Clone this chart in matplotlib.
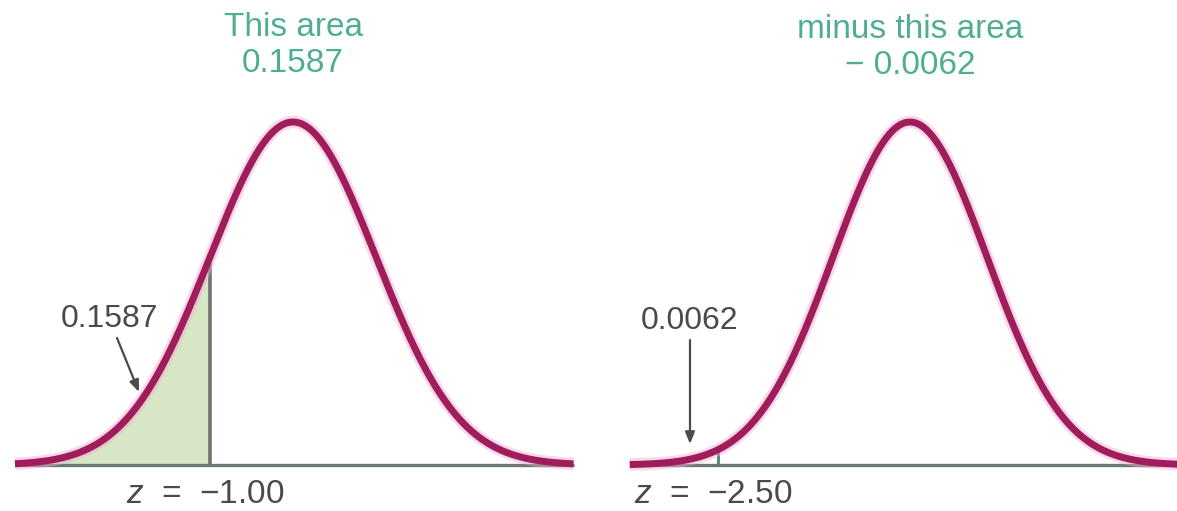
import numpy as np
import matplotlib
matplotlib.use("Agg")
import matplotlib.pyplot as plt

plt.rcParams['font.family'] = ['Liberation Sans', 'DejaVu Sans']
plt.rcParams['mathtext.fontset'] = 'custom'
plt.rcParams['mathtext.rm'] = 'Liberation Sans'
plt.rcParams['mathtext.it'] = 'Liberation Sans:italic'

# Values shown on the two panels
z_left = -1.00
area_left = 0.1587
z_right = -2.50
area_right = 0.0062
title_left = ["This area", "0.1587"]
title_right = ["minus this area", "\u2212 0.0062"]
z_labels = [r"$z$  =  " + "\u22121.00", r"$z$  =  " + "\u22122.50"]

W, H = 1177, 511
fig = plt.figure(figsize=(W / 100, H / 100), dpi=100)

CURVE = "#9e1d5a"
HALO = "#f4a9d4"
AXIS = "#6d7772"
FILL = "#d7e6c4"
TEAL = "#4fae92"
LABEL = "#4a4a4a"

def pdf(z):
    return np.exp(-0.5 * z ** 2) / np.sqrt(2 * np.pi)

# vertical layout in pixels (measured from the bottom)
base_px = 46
peak_px = 389
yscale = (peak_px - base_px) / pdf(0)
ylim = (-base_px / yscale, (H - base_px) / yscale)

def py(px_from_top):
    """data y for a given pixel row counted from the top"""
    return (H - px_from_top - base_px) / yscale

def make_ax(x0, x1, mean_px, sigma_px):
    ax = fig.add_axes([x0 / W, 0, (x1 - x0) / W, 1])
    ax.set_xlim((x0 - mean_px) / sigma_px, (x1 - mean_px) / sigma_px)
    ax.set_ylim(*ylim)
    ax.axis("off")
    return ax

def draw_curve(ax, lo, hi):
    z = np.linspace(lo, hi, 600)
    ax.plot([lo, hi], [0, 0], color=AXIS, lw=2.4, solid_capstyle="butt", zorder=2)
    ax.plot(z, pdf(z), color=HALO, lw=9, alpha=0.45, solid_capstyle="butt", zorder=3)
    ax.plot(z, pdf(z), color=CURVE, lw=5, solid_capstyle="butt", zorder=4)

def arrow(ax, tail, head):
    ax.annotate("", xy=head, xytext=tail,
                arrowprops=dict(arrowstyle="-|>,head_length=0.7,head_width=0.28",
                                color=LABEL, lw=1.6, shrinkA=0, shrinkB=0),
                zorder=5)

# Left panel
mL, sL = 293, 83
axL = make_ax(0, 592, mL, sL)
lo, hi = -3.35, 3.38
zf = np.linspace(lo, z_left, 300)
axL.fill_between(zf, 0, pdf(zf), color=FILL, lw=0, zorder=1)
axL.plot([z_left, z_left], [0, pdf(z_left)], color=AXIS, lw=2.6, zorder=2)
draw_curve(axL, lo, hi)
axL.text(0, py(27), title_left[0], ha="center", va="center", fontsize=24, color=TEAL)
axL.text(0, py(64), title_left[1], ha="center", va="center", fontsize=24, color=TEAL)
axL.text((110 - mL) / sL, py(319), f"{area_left:.4f}", ha="center", va="center",
         fontsize=23, color=LABEL)
arrow(axL, ((117 - mL) / sL, py(338)), ((139 - mL) / sL, py(392)))
axL.text((205 - mL) / sL, py(494), z_labels[0], ha="center", va="center",
         fontsize=24, color=LABEL)

# Right panel
mR, sR = 910, 77
axR = make_ax(600, W, mR, sR)
lo, hi = -3.64, 3.5
axR.plot([z_right, z_right], [0, pdf(z_right)], color="#5f8a78", lw=2.2, zorder=2)
draw_curve(axR, lo, hi)
axR.text(0, py(29), title_right[0], ha="center", va="center", fontsize=24, color=TEAL)
axR.text(0, py(66), title_right[1], ha="center", va="center", fontsize=24, color=TEAL)
ax_x = (690 - mR) / sR
axR.text(ax_x, py(321), f"{area_right:.4f}", ha="center", va="center",
         fontsize=23, color=LABEL)
arrow(axR, (ax_x, py(340)), (ax_x, py(444)))
axR.text((713 - mR) / sR, py(494), z_labels[1], ha="center", va="center",
         fontsize=24, color=LABEL)

fig.savefig("out.png", dpi=100)
